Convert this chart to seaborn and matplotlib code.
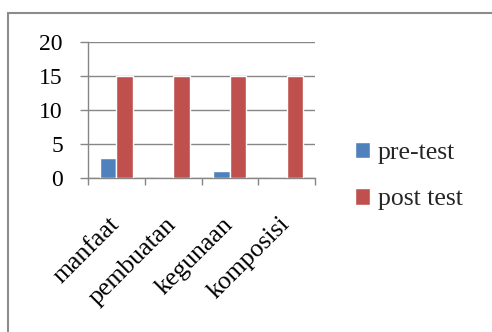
import matplotlib
matplotlib.use("Agg")
import matplotlib.pyplot as plt
import matplotlib.patches as mpatches
import seaborn as sns
import pandas as pd

# Scores per topic before and after the lesson
categories = ["manfaat", "pembuatan", "kegunaan", "komposisi"]
pre_test = [3, 0, 1, 0]
post_test = [15, 15, 15, 15]
series_names = ["pre-test", "post test"]
y_ticks = [0, 5, 10, 15, 20]

df = pd.DataFrame({
    "topik": categories * 2,
    "nilai": pre_test + post_test,
    "tes": [series_names[0]] * len(categories) + [series_names[1]] * len(categories),
})

sns.set_theme(style="white")
plt.rcParams["font.family"] = ["Liberation Serif", "DejaVu Serif"]

W, H = 492, 332
fig = plt.figure(figsize=(W / 100, H / 100), dpi=100)
fig.patch.set_facecolor("white")

# outer chart frame (left and top edges visible)
frame = mpatches.Rectangle((8 / W, -0.1), 1.2, (H - 13) / H + 0.1,
                           transform=fig.transFigure, fill=False,
                           edgecolor="#8c8c8c", linewidth=1.5, zorder=0)
fig.patches.append(frame)

ax = fig.add_axes([88 / W, (H - 178) / H, (315 - 88) / W, (178 - 42) / H])

grid_c = "#868686"
sns.barplot(data=df, x="topik", y="nilai", hue="tes",
            palette=["#4F81BD", "#C0504D"], width=0.58, gap=0,
            saturation=1, ax=ax, zorder=3)

ax.set_ylim(0, 20)
ax.set_xlim(-0.5, len(categories) - 0.5)
ax.set_yticks(y_ticks)
ax.set_yticklabels([str(v) for v in y_ticks])
ax.yaxis.grid(True, color=grid_c, linewidth=1.0)
ax.set_axisbelow(True)
ax.set_xlabel("")
ax.set_ylabel("")

for side in ["top", "right"]:
    ax.spines[side].set_visible(False)
for side in ["left", "bottom"]:
    ax.spines[side].set_color(grid_c)
    ax.spines[side].set_linewidth(1.0)

ax.tick_params(axis="y", length=6, width=1.0, color=grid_c, pad=12,
               labelsize=17, labelcolor="black", left=True)

# category boundaries carry the tick marks, labels sit at the centres
ax.set_xticks([i - 0.5 for i in range(len(categories) + 1)], minor=True)
ax.set_xticks(range(len(categories)))
ax.set_xticklabels(categories, rotation=45, ha="right", va="center",
                   rotation_mode="anchor")
ax.tick_params(axis="x", which="minor", length=5, width=1.0, color=grid_c,
               bottom=True)
ax.tick_params(axis="x", which="major", length=0, pad=31, labelsize=18.5,
               labelcolor="black")

handles, labels = ax.get_legend_handles_labels()
ax.legend(handles, labels, loc="center left",
          bbox_to_anchor=(355 / W, 1 - 176 / H), bbox_transform=fig.transFigure,
          frameon=False, fontsize=18.5, handlelength=0.6, handleheight=0.6,
          handletextpad=0.3, labelspacing=0.95, borderpad=0, borderaxespad=0)

fig.savefig("out.png", dpi=100, facecolor="white")
